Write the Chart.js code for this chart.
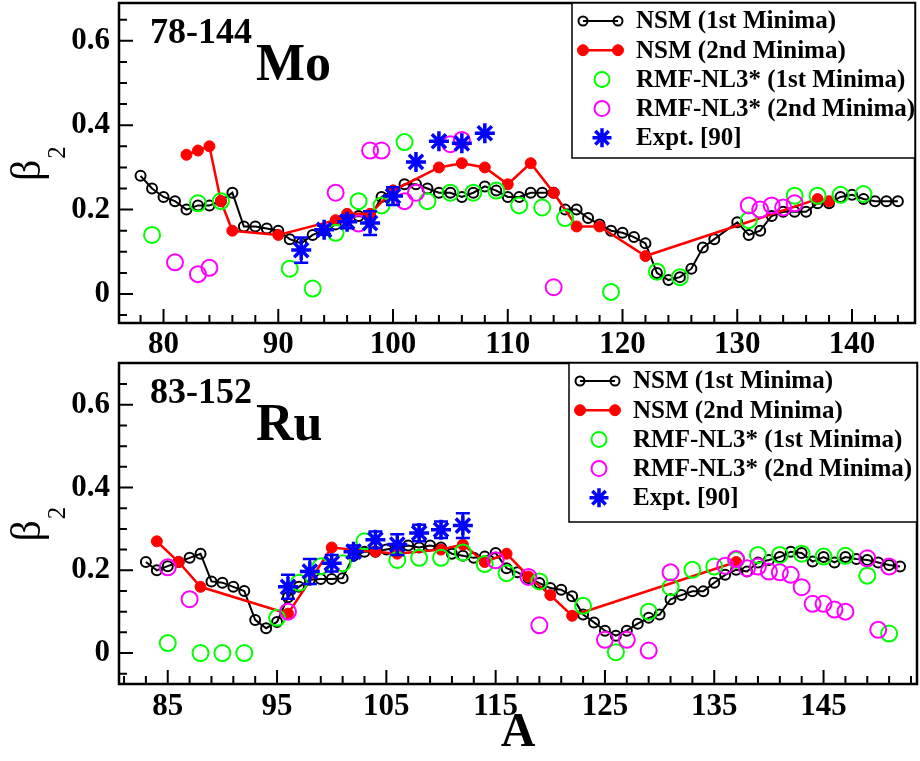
<!DOCTYPE html>
<html>
<head>
<meta charset="utf-8">
<script src="https://cdn.jsdelivr.net/npm/chart.js@4.4.0/dist/chart.umd.min.js"></script>
<style>
  html, body { margin: 0; padding: 0; background: #fff; }
  #wrap { position: relative; width: 920px; height: 761px; }
  #wrap canvas { position: absolute; left: 0; }
</style>
</head>
<body>
<div id="wrap">
  <canvas id="mo-chart" width="920" height="360" style="top:0"></canvas>
  <canvas id="ru-chart" width="920" height="401" style="top:360px"></canvas>
</div>
<script>
// ---- Mo isotopes (upper panel) ----
const moNsm1A = [78,79,80,81,82,83,84,85,86,87,88,89,90,91,92,93,94,95,96,97,98,99,100,101,102,103,104,105,106,107,108,109,110,111,112,113,114,115,116,117,118,119,120,121,122,123,124,125,126,127,128,130,131,132,133,134,135,136,137,138,139,140,141,142,143,144];
const moNsm1B = [0.28,0.25,0.23,0.22,0.20,0.21,0.21,0.22,0.24,0.16,0.16,0.155,0.15,0.13,0.12,0.14,0.15,0.165,0.18,0.185,0.18,0.23,0.245,0.26,0.26,0.25,0.24,0.24,0.23,0.24,0.255,0.245,0.23,0.23,0.24,0.24,0.24,0.20,0.20,0.18,0.165,0.15,0.145,0.135,0.12,0.05,0.033,0.04,0.06,0.11,0.13,0.17,0.14,0.15,0.185,0.195,0.195,0.195,0.215,0.215,0.23,0.235,0.225,0.22,0.22,0.22];
const moNsm2A = [82,83,84,85,86,90,95,96,98,100,104,106,108,110,112,114,116,118,122,137,138];
const moNsm2B = [0.33,0.34,0.35,0.22,0.15,0.14,0.175,0.19,0.19,0.245,0.30,0.31,0.30,0.26,0.31,0.24,0.16,0.16,0.09,0.225,0.22];
const moRmf1A = [79,83,85,91,93,95,97,99,101,103,105,107,109,111,113,115,119,123,125,131,135,137,139,141];
const moRmf1B = [0.14,0.215,0.22,0.06,0.013,0.145,0.22,0.21,0.36,0.22,0.24,0.24,0.245,0.21,0.205,0.18,0.005,0.053,0.04,0.175,0.233,0.233,0.235,0.237];
const moRmf2A = [81,83,84,95,97,98,99,101,102,105,106,114,131,132,133,134,135];
const moRmf2B = [0.075,0.047,0.062,0.24,0.167,0.34,0.34,0.22,0.24,0.355,0.365,0.016,0.21,0.20,0.21,0.205,0.215];
const moExpA = [92,94,96,98,100,102,104,106,108];
const moExpB = [0.104,0.152,0.171,0.168,0.232,0.313,0.362,0.357,0.381];
const moExpErr = [0.03,0.01,0.015,0.028,0.021,0,0,0,0];

// ---- Ru isotopes (lower panel) ----
const ruNsm1A = [83,84,85,86,87,88,89,90,91,92,93,94,95,96,97,98,99,100,101,102,103,104,105,106,107,108,109,110,111,112,113,114,115,116,117,118,119,120,121,122,123,124,125,126,127,128,129,130,131,132,133,134,135,136,137,138,139,140,141,142,143,144,145,146,147,148,149,150,151,152];
const ruNsm1B = [0.22,0.20,0.21,0.22,0.23,0.24,0.173,0.17,0.16,0.15,0.08,0.06,0.075,0.135,0.16,0.177,0.179,0.179,0.181,0.235,0.245,0.245,0.25,0.255,0.26,0.255,0.26,0.255,0.24,0.235,0.23,0.233,0.242,0.205,0.195,0.181,0.169,0.157,0.153,0.137,0.093,0.074,0.054,0.042,0.054,0.071,0.085,0.093,0.13,0.14,0.149,0.149,0.17,0.189,0.201,0.197,0.219,0.225,0.232,0.245,0.242,0.221,0.232,0.219,0.232,0.227,0.225,0.219,0.213,0.209];
const ruNsm2A = [84,86,88,96,100,104,106,110,112,114,116,118,120,122,137];
const ruNsm2B = [0.27,0.22,0.16,0.095,0.255,0.245,0.24,0.25,0.262,0.22,0.24,0.185,0.14,0.09,0.22];
const ruRmf1A = [85,88,90,92,95,97,99,101,103,106,108,110,112,114,116,119,123,126,129,131,133,135,137,139,141,143,145,147,149,151];
const ruRmf1B = [0.024,0,0,0,0.085,0.17,0.21,0.217,0.27,0.225,0.23,0.23,0.243,0.215,0.193,0.173,0.114,0.002,0.10,0.159,0.201,0.209,0.225,0.237,0.237,0.24,0.233,0.235,0.187,0.047];
const ruRmf2A = [85,87,96,115,118,119,125,127,129,131,136,137,138,139,140,141,142,143,144,145,146,147,149,150,151];
const ruRmf2B = [0.207,0.13,0.10,0.224,0.184,0.067,0.032,0.032,0.006,0.195,0.211,0.227,0.205,0.209,0.197,0.195,0.189,0.159,0.119,0.119,0.105,0.10,0.229,0.056,0.209];
const ruExpA = [96,98,100,102,104,106,108,110,112];
const ruExpB = [0.16,0.197,0.217,0.245,0.274,0.262,0.29,0.298,0.308];
const ruExpErr = [0.029,0.03,0.02,0.015,0.02,0.025,0.02,0.02,0.03];

// ---- axes / labels ----
const moXTicks = [80,90,100,110,120,130,140];
const ruXTicks = [85,95,105,115,125,135,145];
const yTicks = [0,0.2,0.4,0.6];
const yTickLabels = ['0','0.2','0.4','0.6'];
const legendLabels = ['NSM (1st Minima)','NSM (2nd Minima)','RMF-NL3* (1st Minima)','RMF-NL3* (2nd Minima)','Expt. [90]'];

const SERIF = '"Liberation Serif", "Times New Roman", Times, serif';

function toPoints(xs, ys) {
  return xs.map((x, i) => ({ x, y: ys[i] }));
}

function buildDatasets(s) {
  return [
    {
      label: legendLabels[0], data: toPoints(s.nsm1A, s.nsm1B), showLine: true,
      borderColor: '#000', borderWidth: 2, pointStyle: 'circle', pointRadius: 5,
      pointBorderWidth: 2, pointBorderColor: '#000', pointBackgroundColor: 'rgba(0,0,0,0)', order: 5
    },
    {
      label: legendLabels[1], data: toPoints(s.nsm2A, s.nsm2B), showLine: true,
      borderColor: '#ff0000', borderWidth: 2.5, pointStyle: 'circle', pointRadius: 5.5,
      pointBorderWidth: 1, pointBorderColor: '#ff0000', pointBackgroundColor: '#ff0000', order: 4
    },
    {
      label: legendLabels[2], data: toPoints(s.rmf1A, s.rmf1B), showLine: false,
      pointStyle: 'circle', pointRadius: 8, pointBorderWidth: 2,
      pointBorderColor: '#00ff00', pointBackgroundColor: 'rgba(0,0,0,0)', order: 3
    },
    {
      label: legendLabels[3], data: toPoints(s.rmf2A, s.rmf2B), showLine: false,
      pointStyle: 'circle', pointRadius: 8, pointBorderWidth: 2,
      pointBorderColor: '#ff00ff', pointBackgroundColor: 'rgba(0,0,0,0)', order: 2
    },
    {
      label: legendLabels[4], data: toPoints(s.expA, s.expB), showLine: false, errors: s.expErr,
      pointStyle: 'star', pointRadius: 10, pointBorderWidth: 3.5,
      pointBorderColor: '#0000ff', pointBackgroundColor: '#0000ff', order: 1
    }
  ];
}

// inward ticks + closed frame
const framePlugin = {
  id: 'frame',
  afterDatasetsDraw(chart, args, opts) {
    const { ctx, chartArea: a, scales: { x, y } } = chart;
    ctx.save();
    ctx.strokeStyle = '#000';
    ctx.lineWidth = 2;
    ctx.beginPath();
    for (let v = opts.xMinorStart; v <= x.max; v += 2) {
      const px = x.getPixelForValue(v);
      const len = opts.xTicks.includes(v) ? 14 : 8;
      ctx.moveTo(px, a.bottom); ctx.lineTo(px, a.bottom - len);
    }
    for (let k = -1; k <= 13; k++) {
      const v = k * 0.05;
      const py = y.getPixelForValue(v);
      if (py < a.top || py > a.bottom) continue;
      const len = k % 4 === 0 ? 14 : 8;
      ctx.moveTo(a.left, py); ctx.lineTo(a.left + len, py);
    }
    ctx.stroke();
    ctx.lineWidth = 2.5;
    ctx.strokeRect(a.left, a.top, a.right - a.left, a.bottom - a.top);
    ctx.restore();
  }
};

// vertical error bars for datasets carrying an `errors` array
const errorBarPlugin = {
  id: 'errorBars',
  afterDatasetsDraw(chart) {
    const { ctx, scales: { y } } = chart;
    chart.data.datasets.forEach((ds, i) => {
      if (!ds.errors) return;
      const meta = chart.getDatasetMeta(i);
      ctx.save();
      ctx.strokeStyle = ds.pointBorderColor;
      ctx.lineWidth = 2.5;
      meta.data.forEach((el, j) => {
        const err = ds.errors[j];
        if (!err) return;
        const yv = ds.data[j].y;
        const top = y.getPixelForValue(yv + err);
        const bot = y.getPixelForValue(yv - err);
        ctx.beginPath();
        ctx.moveTo(el.x, top); ctx.lineTo(el.x, bot);
        ctx.moveTo(el.x - 7, top); ctx.lineTo(el.x + 7, top);
        ctx.moveTo(el.x - 7, bot); ctx.lineTo(el.x + 7, bot);
        ctx.stroke();
      });
      ctx.restore();
    });
  }
};

// boxed legend in the upper right of the plot area
const legendBoxPlugin = {
  id: 'legendBox',
  afterDraw(chart, args, opts) {
    const { ctx, chartArea: a } = chart;
    const left = a.right - opts.width;
    const top = a.top;
    ctx.save();
    ctx.fillStyle = '#fff';
    ctx.fillRect(left, top, opts.width, opts.height);
    ctx.strokeStyle = '#000';
    ctx.lineWidth = 1.5;
    ctx.strokeRect(left, top, opts.width, opts.height);
    const radii = [4.5, 5.5, 7.5, 7.5, 9.5];
    chart.data.datasets.forEach((ds, i) => {
      const cy = top + 18 + i * 29.2;
      const style = { pointStyle: ds.pointStyle, radius: radii[i], borderWidth: ds.pointBorderWidth, rotation: 0 };
      ctx.strokeStyle = ds.pointBorderColor;
      ctx.fillStyle = ds.pointBackgroundColor;
      if (ds.showLine) {
        ctx.lineWidth = ds.borderWidth;
        ctx.beginPath();
        ctx.moveTo(left + 11, cy); ctx.lineTo(left + 46, cy);
        ctx.stroke();
        ctx.lineWidth = ds.pointBorderWidth;
        Chart.helpers.drawPoint(ctx, style, left + 11, cy);
        Chart.helpers.drawPoint(ctx, style, left + 46, cy);
      } else {
        ctx.lineWidth = ds.pointBorderWidth;
        Chart.helpers.drawPoint(ctx, style, left + 30, cy);
      }
      ctx.fillStyle = '#000';
      ctx.font = 'bold 25px ' + SERIF;
      ctx.textBaseline = 'middle';
      ctx.textAlign = 'left';
      ctx.fillText(ds.label, left + 64, cy + 1);
    });
    ctx.restore();
  }
};

// isotope tag (mass range as superscript) and rotated beta_2 axis label
const panelTextPlugin = {
  id: 'panelText',
  afterDraw(chart, args, opts) {
    const { ctx, chartArea: a } = chart;
    ctx.save();
    ctx.fillStyle = '#000';
    ctx.textAlign = 'left';
    ctx.textBaseline = 'alphabetic';
    ctx.font = 'bold 36px ' + SERIF;
    ctx.fillText(opts.range, 150, a.top + 40);
    const w = ctx.measureText(opts.range).width;
    ctx.font = 'bold 52px ' + SERIF;
    ctx.fillText(opts.element, 150 + w + 4, a.top + 77);

    const cy = (a.top + a.bottom) / 2;
    ctx.translate(40, cy + 18);
    ctx.rotate(-Math.PI / 2);
    ctx.font = '42px ' + SERIF;
    ctx.fillText('\u03B2', 0, 0);
    const bw = ctx.measureText('\u03B2').width;
    ctx.font = '25px ' + SERIF;
    ctx.fillText('2', bw + 1, 25);
    ctx.restore();
  }
};

function makePanel(canvasId, s) {
  const tickFont = { family: SERIF, size: 31, weight: 'bold' };
  return new Chart(document.getElementById(canvasId), {
    type: 'scatter',
    data: { datasets: buildDatasets(s) },
    options: {
      responsive: false,
      animation: false,
      layout: { autoPadding: false, padding: { top: 3, right: s.padRight, left: 0, bottom: 0 } },
      plugins: {
        legend: { display: false },
        tooltip: { enabled: false },
        frame: { xTicks: s.xTicks, xMinorStart: s.xMinorStart },
        legendBox: { width: s.legendW, height: s.legendH },
        panelText: { range: s.range, element: s.element }
      },
      scales: {
        x: {
          type: 'linear',
          min: s.xMin, max: s.xMax,
          grid: { display: false, drawTicks: false },
          border: { display: false },
          afterBuildTicks: (scale) => { scale.ticks = s.xTicks.map((v) => ({ value: v })); },
          afterFit: (scale) => {
            scale.height = s.xAxisH;
            scale.paddingLeft = 0;
            scale.paddingRight = 0;
          },
          ticks: { font: tickFont, color: '#000', padding: s.xPad, maxRotation: 0, autoSkip: false,
            callback: (v) => String(v) },
          title: {
            display: !!s.xTitle, text: s.xTitle || '', color: '#000',
            font: { family: SERIF, size: 48, weight: 'bold', lineHeight: 1 },
            padding: { top: 0, bottom: 3 }
          }
        },
        y: {
          type: 'linear',
          min: s.yMin, max: s.yMax,
          grid: { display: false, drawTicks: false },
          border: { display: false },
          afterBuildTicks: (scale) => { scale.ticks = yTicks.map((v) => ({ value: v })); },
          afterFit: (scale) => {
            scale.width = 119;
            scale.paddingTop = 0;
            scale.paddingBottom = 0;
          },
          ticks: { font: tickFont, color: '#000', padding: 9, autoSkip: false,
            callback: (v) => yTickLabels[yTicks.indexOf(v)] }
        }
      }
    },
    plugins: [framePlugin, errorBarPlugin, legendBoxPlugin, panelTextPlugin]
  });
}

makePanel('mo-chart', {
  nsm1A: moNsm1A, nsm1B: moNsm1B, nsm2A: moNsm2A, nsm2B: moNsm2B,
  rmf1A: moRmf1A, rmf1B: moRmf1B, rmf2A: moRmf2A, rmf2B: moRmf2B,
  expA: moExpA, expB: moExpB, expErr: moExpErr,
  xMin: 76.12, xMax: 145.49, yMin: -0.0687, yMax: 0.6896,
  xTicks: moXTicks, xMinorStart: 78, xAxisH: 37, xPad: 3, padRight: 5,
  legendW: 343, legendH: 155, range: '78-144', element: 'Mo'
});

makePanel('ru-chart', {
  nsm1A: ruNsm1A, nsm1B: ruNsm1B, nsm2A: ruNsm2A, nsm2B: ruNsm2B,
  rmf1A: ruRmf1A, rmf1B: ruRmf1B, rmf2A: ruRmf2A, rmf2B: ruRmf2B,
  expA: ruExpA, expB: ruExpB, expErr: ruExpErr,
  xMin: 80.54, xMax: 153.55, yMin: -0.0749, yMax: 0.701,
  xTicks: ruXTicks, xMinorStart: 81, xAxisH: 77, xPad: 4, padRight: 3,
  legendW: 348, legendH: 159, range: '83-152', element: 'Ru', xTitle: 'A'
});
</script>
</body>
</html>
